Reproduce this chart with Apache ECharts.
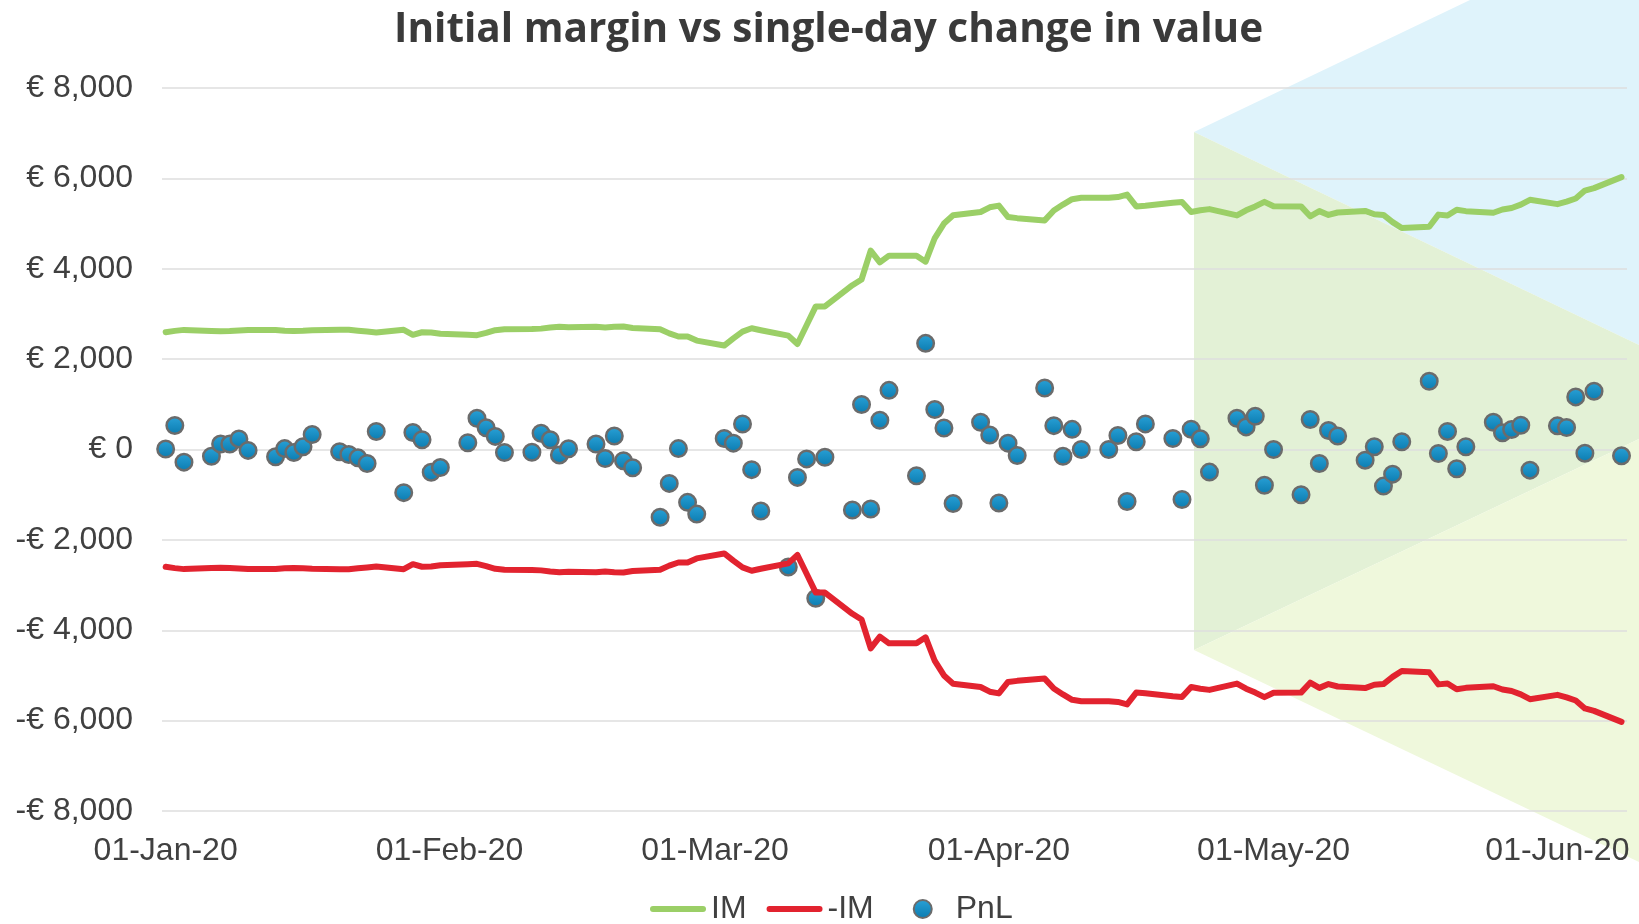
<!DOCTYPE html>
<html>
<head>
<meta charset="utf-8">
<title>Initial margin vs single-day change in value</title>
<script src="https://cdn.jsdelivr.net/npm/echarts@6/dist/echarts.min.js"></script>
<style>
  html, body { margin: 0; padding: 0; background: #ffffff; }
  #main { width: 1639px; height: 924px; }
</style>
</head>
<body>
<div id="main"></div>
<script>
// business days, Jan-Jun 2020
const dates = [
  "2020-01-01", "2020-01-02", "2020-01-03",
  "2020-01-06", "2020-01-07", "2020-01-08", "2020-01-09", "2020-01-10",
  "2020-01-13", "2020-01-14", "2020-01-15", "2020-01-16", "2020-01-17",
  "2020-01-20", "2020-01-21", "2020-01-22", "2020-01-23", "2020-01-24",
  "2020-01-27", "2020-01-28", "2020-01-29", "2020-01-30", "2020-01-31",
  "2020-02-03", "2020-02-04", "2020-02-05", "2020-02-06", "2020-02-07",
  "2020-02-10", "2020-02-11", "2020-02-12", "2020-02-13", "2020-02-14",
  "2020-02-17", "2020-02-18", "2020-02-19", "2020-02-20", "2020-02-21",
  "2020-02-24", "2020-02-25", "2020-02-26", "2020-02-27", "2020-02-28",
  "2020-03-02", "2020-03-03", "2020-03-04", "2020-03-05", "2020-03-06",
  "2020-03-09", "2020-03-10", "2020-03-11", "2020-03-12", "2020-03-13",
  "2020-03-16", "2020-03-17", "2020-03-18", "2020-03-19", "2020-03-20",
  "2020-03-23", "2020-03-24", "2020-03-25", "2020-03-26", "2020-03-27",
  "2020-03-30", "2020-03-31", "2020-04-01", "2020-04-02", "2020-04-03",
  "2020-04-06", "2020-04-07", "2020-04-08", "2020-04-09", "2020-04-10",
  "2020-04-13", "2020-04-14", "2020-04-15", "2020-04-16", "2020-04-17",
  "2020-04-20", "2020-04-21", "2020-04-22", "2020-04-23", "2020-04-24",
  "2020-04-27", "2020-04-28", "2020-04-29", "2020-04-30", "2020-05-01",
  "2020-05-04", "2020-05-05", "2020-05-06", "2020-05-07", "2020-05-08",
  "2020-05-11", "2020-05-12", "2020-05-13", "2020-05-14", "2020-05-15",
  "2020-05-18", "2020-05-19", "2020-05-20", "2020-05-21", "2020-05-22",
  "2020-05-25", "2020-05-26", "2020-05-27", "2020-05-28", "2020-05-29",
  "2020-06-01", "2020-06-02", "2020-06-03", "2020-06-04", "2020-06-05",
  "2020-06-08"
];

// initial margin (the -IM line mirrors it)
const im = [
  2596, 2625, 2647, 2625, 2615, 2620, 2635, 2647, 2647, 2630, 2625, 2630, 2640,
  2650, 2650, 2630, 2610, 2590, 2649, 2539, 2595, 2590, 2560,
  2540, 2530, 2580, 2640, 2660, 2665, 2675, 2700, 2715, 2705, 2715, 2700, 2715,
  2720, 2690, 2660, 2570, 2500, 2500, 2410,
  2300, 2460, 2610, 2684, 2640, 2520, 2335, 2750, 3167, 3167, 3636, 3762, 4400,
  4141, 4290, 4290, 4156, 4680, 5000, 5182, 5256, 5360,
  5398, 5145, 5120, 5070, 5290, 5420, 5540, 5570, 5573, 5587, 5640, 5380, 5395,
  5462, 5477, 5256, 5293, 5320, 5180, 5293, 5380, 5480,
  5382, 5380, 5160, 5275, 5190, 5245, 5280, 5205, 5190, 5032, 4900, 4930, 5198,
  5180, 5305, 5275, 5240, 5312, 5345, 5419, 5526,
  5430, 5485, 5555, 5730, 5785, 6027
];

// single-day change in value
const pnl = [
  10, 530, -280, -150, 120, 120, 235, -20, -160, 20, -65, 60, 330,
  -50, -110, -185, -310, 400, -955, 375, 215, -505, -400,
  150, 690, 480, 290, -65, -60, 360, 215, -120, 15, 120, -200, 300,
  -250, -405, -1500, -750, 20, -1170, -1430,
  245, 141, 565, -446, -1360, -2600, -617, -208, -3294, -171, -1338, 996, -1316,
  647, 1309, -580, 2349, 885, 476, -1197, 602, 320,
  -1182, 141, -134, 1360, 528, -149, 446, 0, 0, 310, -1150, 170, 567,
  243, -1105, 450, 236, -500, 693, 500, 737, -790,
  0, -1000, 663, -310, 420, 300, -236, 60, -810, -545, 170, 1510, -88,
  400, -427, 60, 604, 368, 442, 538, -457,
  523, 486, 1164, -81, 1290, -140
];

const monthTicks = ["2020-01-01", "2020-02-01", "2020-03-01", "2020-04-01", "2020-05-01", "2020-06-01"];
const yTicks = { min: -8000, max: 8000, step: 2000 };

const DAY = 864e5;
const MONTHS = ["Jan", "Feb", "Mar", "Apr", "May", "Jun", "Jul", "Aug", "Sep", "Oct", "Nov", "Dec"];
const toTime = s => Date.UTC(+s.slice(0, 4), +s.slice(5, 7) - 1, +s.slice(8, 10));
const pad = n => (n < 10 ? "0" : "") + n;

const font = "'Liberation Sans', Arial, sans-serif";
const textColor = "#404040";
// legend icons: a round-capped bar, and a dot centred in the same 56x18 box
const lineIcon = "path://M3,0 L53,0 A3,3 0 0 1 53,6 L3,6 A3,3 0 0 1 3,0 Z";
const dotIcon = "path://M0,0 M56,18 M19,9 A9,9 0 1 1 37,9 A9,9 0 1 1 19,9 Z";

const chartDom = document.getElementById("main");
const myChart = echarts.init(chartDom);

const t0 = toTime(dates[0]);

const option = {
  animation: false,
  backgroundColor: "#ffffff",
  title: {
    text: "Initial margin vs single-day change in value",
    left: 394,
    top: 10,
    padding: 0,
    textStyle: {
      fontFamily: "'Open Sans', sans-serif",
      fontWeight: "bold",
      fontSize: 40.5,
      color: "#3a3a3a"
    }
  },
  // forecast cones behind the plot
  graphic: {
    elements: [
      {
        type: "polygon",
        z: -10,
        shape: { points: [[1194, 132], [1470, 0], [1639, 0], [1639, 345]] },
        style: { fill: "#dff3fb" },
        silent: true
      },
      {
        type: "polygon",
        z: -10,
        shape: { points: [[1194, 132], [1639, 345], [1639, 439], [1194, 650]] },
        style: { fill: "#e3f1d6" },
        silent: true
      },
      {
        type: "polygon",
        z: -10,
        shape: { points: [[1194, 650], [1639, 439], [1639, 862]] },
        style: { fill: "#eff8dc" },
        silent: true
      }
    ]
  },
  legend: {
    left: 645,
    top: 888,
    itemWidth: 56,
    itemHeight: 18,
    itemGap: 20,
    textStyle: { fontFamily: font, fontSize: 32, color: textColor },
    data: [
      { name: "IM", icon: lineIcon },
      { name: "-IM", icon: lineIcon },
      { name: "PnL", icon: dotIcon }
    ]
  },
  grid: { left: 162, right: 12, top: 88, bottom: 113 },
  xAxis: {
    type: "value",
    min: t0 - 0.4 * DAY,
    max: t0 + 159.6 * DAY,
    axisLine: { show: false },
    axisTick: { show: false },
    splitLine: { show: false },
    axisLabel: {
      customValues: monthTicks.map(toTime),
      margin: 24,
      fontFamily: font,
      fontSize: 32,
      color: textColor,
      formatter: v => {
        const d = new Date(v);
        return pad(d.getUTCDate()) + "-" + MONTHS[d.getUTCMonth()] + "-" + String(d.getUTCFullYear()).slice(2);
      }
    }
  },
  yAxis: {
    type: "value",
    min: yTicks.min,
    max: yTicks.max,
    interval: yTicks.step,
    axisLine: { show: false },
    axisTick: { show: false },
    splitLine: { lineStyle: { color: "#dedede", width: 1.5 } },
    axisLabel: {
      margin: 29,
      fontFamily: font,
      fontSize: 32,
      color: textColor,
      formatter: v => {
        const s = Math.abs(v).toLocaleString("en-US");
        return v < 0 ? "-€ " + s : "€ " + s;
      }
    }
  },
  series: [
    {
      name: "IM",
      type: "line",
      symbol: "none",
      data: dates.map((d, i) => [toTime(d), im[i]]),
      itemStyle: { color: "#9bcf67" },
      lineStyle: { color: "#9bcf67", width: 6, cap: "round", join: "round" }
    },
    {
      name: "-IM",
      type: "line",
      symbol: "none",
      data: dates.map((d, i) => [toTime(d), -im[i]]),
      itemStyle: { color: "#e2232f" },
      lineStyle: { color: "#e2232f", width: 6, cap: "round", join: "round" }
    },
    {
      name: "PnL",
      type: "scatter",
      symbol: "circle",
      symbolSize: 16.5,
      data: dates.map((d, i) => [toTime(d), pnl[i]]),
      itemStyle: {
        color: new echarts.graphic.LinearGradient(0, 0, 0, 1, [
          { offset: 0, color: "#2aa2d8" },
          { offset: 1, color: "#0a7aae" }
        ]),
        borderColor: "#6b6b6b",
        borderWidth: 2.5,
        opacity: 1
      }
    }
  ]
};

option && myChart.setOption(option);
</script>
</body>
</html>
